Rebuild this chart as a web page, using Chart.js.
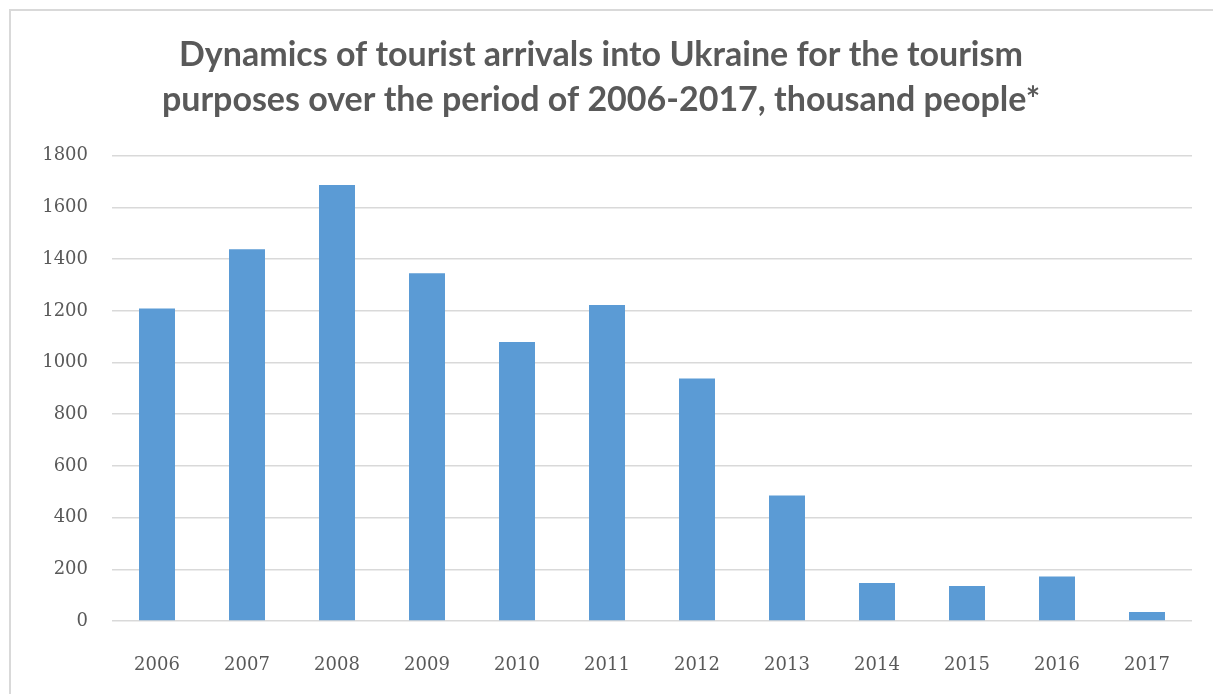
<!DOCTYPE html>
<html>
<head>
<meta charset="utf-8">
<script src="https://cdn.jsdelivr.net/npm/chart.js@4.4.1/dist/chart.umd.min.js"></script>
<style>
  html, body { margin: 0; padding: 0; background: #fff; }
  #wrap { position: relative; width: 1213px; height: 694px; }
  #frame { position: absolute; left: 9px; top: 9px; right: 0; bottom: 0;
           border-top: 2px solid #d9d9d9; border-left: 2px solid #d9d9d9; pointer-events: none; }
</style>
</head>
<body>
<div id="wrap">
  <canvas id="chart" width="1213" height="694"></canvas>
  <div id="frame"></div>
</div>
<script>
// data
const years = ['2006', '2007', '2008', '2009', '2010', '2011', '2012', '2013', '2014', '2015', '2016', '2017'];
const arrivals = [1209, 1438, 1687, 1345, 1079, 1223, 938, 486, 147, 135, 172, 35];
const titleLines = [
    'Dynamics of tourist arrivals into Ukraine for the tourism',
    'purposes over the period of 2006-2017, thousand people*'
];

const tickFont = { family: 'DejaVu Serif', size: 18 };
const textColor = '#595959';

const ctx = document.getElementById('chart').getContext('2d');
new Chart(ctx, {
    type: 'bar',
    data: {
        labels: years,
        datasets: [{
            label: 'Tourist arrivals',
            data: arrivals,
            backgroundColor: '#5B9BD5',
            borderWidth: 0,
            categoryPercentage: 1.0,
            barPercentage: 0.4
        }]
    },
    options: {
        responsive: false,
        animation: false,
        layout: { padding: { left: 10, right: 21, top: 10, bottom: 0 } },
        plugins: {
            legend: { display: false },
            tooltip: { enabled: false },
            title: {
                display: true,
                text: titleLines,
                color: textColor,
                font: { family: 'Lato', size: 34, weight: 'bold', lineHeight: 1.32 },
                padding: { top: 23, bottom: 33 }
            }
        },
        scales: {
            x: {
                grid: { display: false },
                border: { display: false },
                ticks: { color: textColor, font: tickFont, padding: 26, maxRotation: 0 },
                afterFit(scale) { scale.height = 73; }
            },
            y: {
                min: 0,
                max: 1800,
                ticks: {
                    stepSize: 200,
                    color: textColor,
                    font: tickFont,
                    padding: 24,
                    callback: (value) => String(value)
                },
                grid: { color: '#d9d9d9', lineWidth: 1.5, drawTicks: false },
                border: { display: false },
                afterFit(scale) { scale.width = 102; }
            }
        }
    }
});
</script>
</body>
</html>
